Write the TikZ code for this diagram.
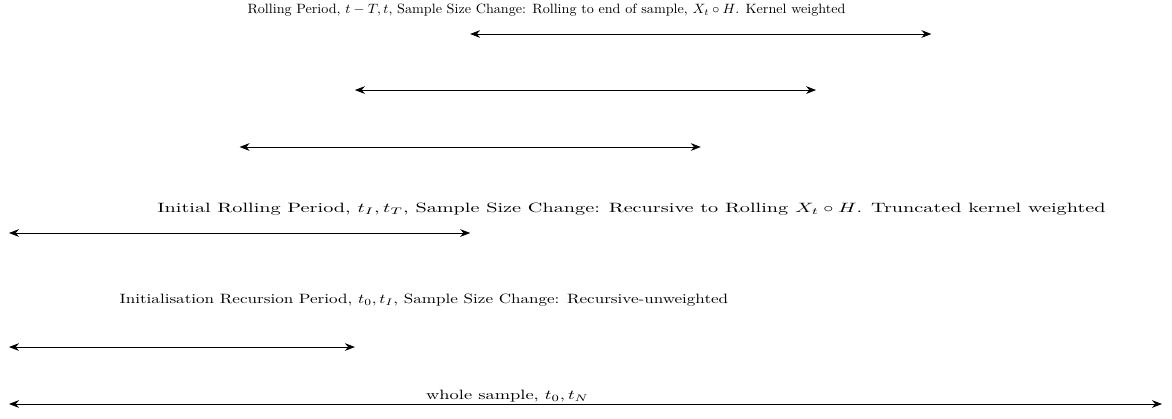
\documentclass[tikz,border=0pt]{standalone}
\usetikzlibrary{arrows.meta}
\begin{document}
\begin{tikzpicture}[x=3cm,y=3cm,
  span/.style={{Stealth[length=2.6mm,width=2mm]}-{Stealth[length=2.6mm,width=2mm]}, line width=0.6pt},
  lab/.style={inner sep=0pt, anchor=center}]
\useasboundingbox (-0.078,-0.130) rectangle (10.087,3.504);
% arrow endpoints
\coordinate (a1l) at (4,3.209); \coordinate (a1r) at (8,3.209);
\coordinate (a2l) at (3,2.723); \coordinate (a2r) at (7,2.723);
\coordinate (a3l) at (2,2.229); \coordinate (a3r) at (6,2.229);
\coordinate (a4l) at (0,1.483); \coordinate (a4r) at (4,1.483);
\coordinate (a5l) at (0,0.494); \coordinate (a5r) at (3,0.494);
\coordinate (a6l) at (0,0);     \coordinate (a6r) at (10,0);
\draw[span] (a1l) -- (a1r);
\draw[span] (a2l) -- (a2r);
\draw[span] (a3l) -- (a3r);
\draw[span] (a4l) -- (a4r);
\draw[span] (a5l) -- (a5r);
\draw[span] (a6l) -- (a6r);
% labels
\node[lab, xscale=1.047] (t1) at (4.662,3.417) {Rolling Period, $t-T,t$, Sample Size Change: Rolling to end of sample, $X_t\circ H$. Kernel weighted};
\node[lab, xscale=1.498] (t4) at (5.399,1.691) {Initial Rolling Period, $t_I,t_T$, Sample Size Change: Recursive to Rolling $X_t\circ H$. Truncated kernel weighted};
\node[lab, xscale=1.264] (t5) at (3.599,0.902) {Initialisation Recursion Period, $t_0,t_I$, Sample Size Change: Recursive-unweighted};
\node[lab, xscale=1.364] (t6) at (4.323,0.069) {whole sample, $t_0,t_N$};
\end{tikzpicture}
\end{document}
